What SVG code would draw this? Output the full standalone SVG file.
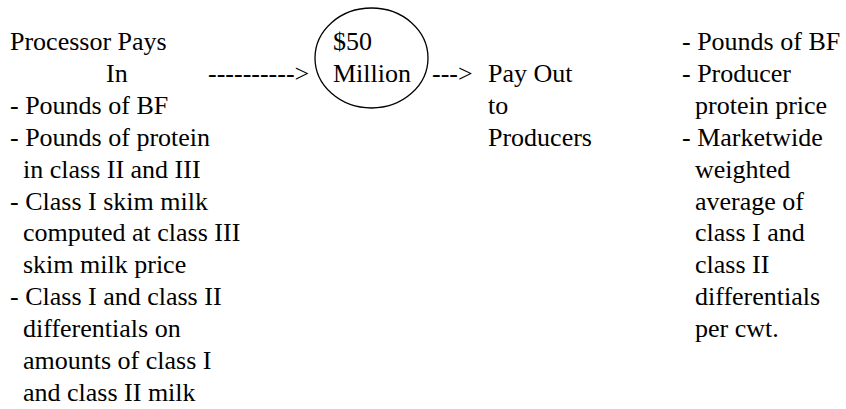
<svg xmlns="http://www.w3.org/2000/svg" width="846" height="409" viewBox="0 0 846 409">
<style>
text{font-family:'Liberation Serif','Times New Roman',Times,serif;font-size:26px;fill:#000}
.node{fill:none;stroke:#000;stroke-width:1.3}
</style>
<rect width="846" height="409" fill="#fff"/>
<g id="pays-in">
<text x="10" y="50">Processor Pays</text>
<text x="106" y="82">In</text>
<text x="10" y="114">- Pounds of BF</text>
<text x="10" y="145.5">- Pounds of protein</text>
<text x="23" y="177.5">in class II and III</text>
<text x="10" y="209.5">- Class I skim milk</text>
<text x="23" y="241">computed at class III</text>
<text x="23" y="273">skim milk price</text>
<text x="10" y="305">- Class I and class II</text>
<text x="23" y="336.5">differentials on</text>
<text x="23" y="368.5">amounts of class I</text>
<text x="23" y="400.5">and class II milk</text>
</g>
<g id="pool">
<ellipse class="node" cx="371.5" cy="58" rx="56.5" ry="50"/>
<text x="333" y="50">$50</text>
<text x="333" y="82">Million</text>
</g>
<g id="pay-out">
<text x="488" y="82">Pay Out</text>
<text x="488" y="114">to</text>
<text x="488" y="145.5">Producers</text>
</g>
<g id="pay-out-basis">
<text x="682" y="50">- Pounds of BF</text>
<text x="682" y="82">- Producer</text>
<text x="695" y="114">protein price</text>
<text x="682" y="145.5">- Marketwide</text>
<text x="695" y="177.5">weighted</text>
<text x="695" y="209.5">average of</text>
<text x="695" y="241">class I and</text>
<text x="695" y="273">class II</text>
<text x="695" y="305">differentials</text>
<text x="695" y="336.5">per cwt.</text>
</g>
<g id="connectors">
<text x="208" y="82">----------&gt;</text>
<text x="432" y="82">---&gt;</text>
</g>
</svg>
